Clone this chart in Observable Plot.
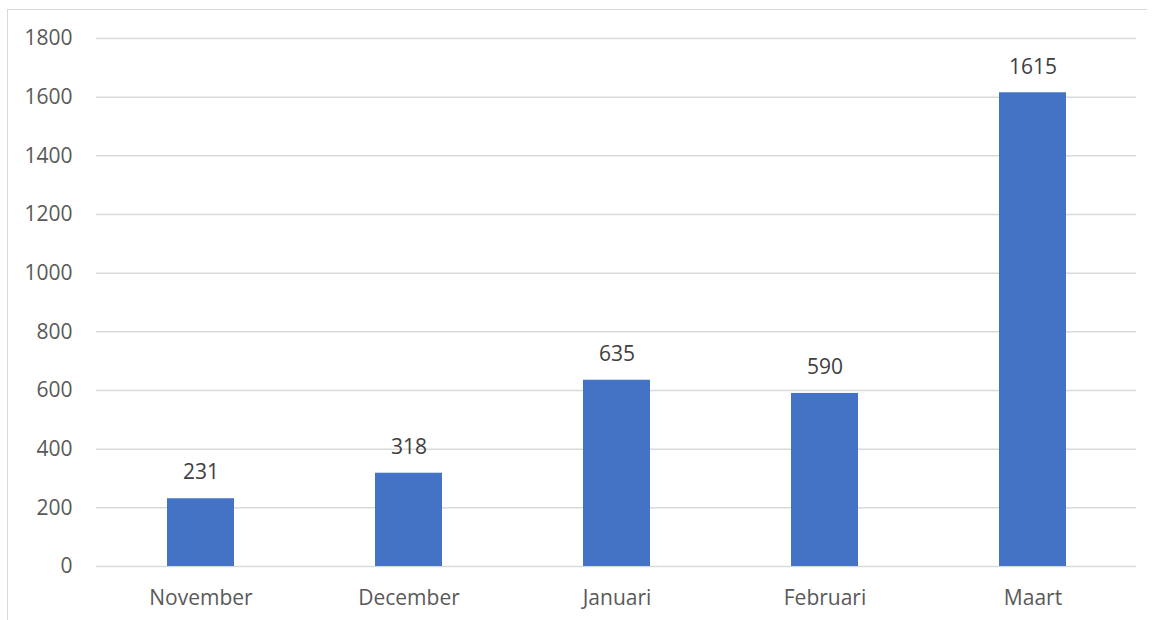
<!DOCTYPE html>
<html>
<head>
<meta charset="utf-8">
<script src="https://cdn.jsdelivr.net/npm/d3@7"></script>
<script src="https://cdn.jsdelivr.net/npm/@observablehq/plot@0.6"></script>
<style>
  html, body { margin: 0; padding: 0; background: #fff; }
  #wrap { position: relative; width: 1155px; height: 620px; overflow: hidden; }
  #frame { position: absolute; left: 7px; top: 9px; width: 1140px; height: 640px; border: 1.5px solid #d9d9d9; border-right: none; box-sizing: border-box; pointer-events: none; }
  svg { display: block; }
</style>
</head>
<body>
<div id="wrap"><div id="frame"></div></div>
<script>
const months = ["November", "December", "Januari", "Februari", "Maart"];
const counts = [231, 318, 635, 590, 1615];
const yTicks = [0, 200, 400, 600, 800, 1000, 1200, 1400, 1600, 1800];

const data = months.map((m, i) => ({month: m, value: counts[i]}));

const chart = Plot.plot({
  width: 1155,
  height: 620,
  marginLeft: 96,
  marginRight: 19,
  marginTop: 38,
  marginBottom: 54,
  style: {fontFamily: "'Open Sans', sans-serif", fontSize: "21px", color: "#595959", background: "transparent"},
  x: {domain: months, paddingInner: 0.68, paddingOuter: 0.34, label: null},
  y: {domain: [0, 1800], label: null},
  marks: [
    Plot.gridY(yTicks, {stroke: "#d9d9d9", strokeOpacity: 1, strokeWidth: 1.5}),
    Plot.barY(data, {x: "month", y: "value", fill: "#4472C4"}),
    Plot.text(data, {x: "month", y: "value", text: d => String(d.value), dy: -26, fill: "#404040", fontSize: 21}),
    Plot.axisX({tickSize: 0, tickPadding: 24, fontSize: 21, fill: "#595959"}),
    Plot.axisY({ticks: yTicks, tickFormat: d => String(d), tickSize: 0, tickPadding: 24, fontSize: 21, fill: "#595959"})
  ]
});
document.getElementById("wrap").prepend(chart);
</script>
</body>
</html>
